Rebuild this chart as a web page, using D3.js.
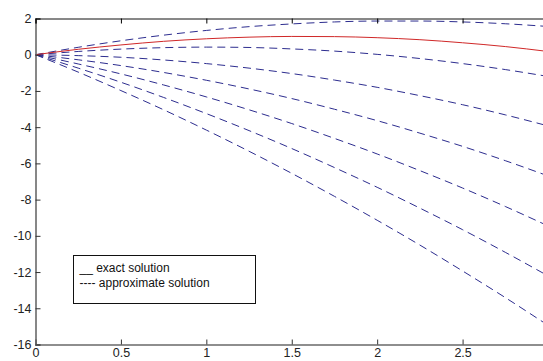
<!DOCTYPE html>
<html>
<head>
	<title>exact vs approximate</title>
	<script src="https://d3js.org/d3.v7.min.js"></script>
	<style type="text/css">
		body { margin:0; background:#fff; overflow:hidden; }
		text { font-family:"Liberation Sans", Arial, sans-serif; }
	</style>
</head>
<body>
	<script>
	// x samples
	var xs = [0, 0.25, 0.5, 0.75, 1, 1.25, 1.5, 1.75, 2, 2.25, 2.5, 2.75, 3];

	// red exact solution
	var exact = [0, 0.30, 0.54, 0.74, 0.88, 0.97, 1.01, 1.00, 0.94, 0.83, 0.66, 0.45, 0.18];

	// blue dashed approximate solutions, top to bottom
	var approx1 = [0, 0.41, 0.77, 1.08, 1.34, 1.55, 1.70, 1.81, 1.86, 1.86, 1.81, 1.71, 1.56];
	var approx2 = [0, 0.18, 0.31, 0.39, 0.42, 0.40, 0.32, 0.20, 0.02, -0.21, -0.49, -0.82, -1.20];
	var approx3 = [0, -0.05, -0.14, -0.29, -0.49, -0.74, -1.04, -1.40, -1.80, -2.26, -2.76, -3.32, -3.93];
	var approx4 = [0, -0.28, -0.60, -0.98, -1.41, -1.89, -2.42, -3.01, -3.64, -4.33, -5.06, -5.85, -6.69];
	var approx5 = [0, -0.51, -1.06, -1.67, -2.33, -3.04, -3.80, -4.62, -5.48, -6.40, -7.36, -8.38, -9.45];
	var approx6 = [0, -0.74, -1.52, -2.36, -3.25, -4.19, -5.18, -6.23, -7.32, -8.47, -9.66, -10.91, -12.21];
	var approx7 = [0, -0.96, -1.98, -3.04, -4.16, -5.33, -6.55, -7.82, -9.14, -10.51, -11.94, -13.41, -14.94];

	// the 3 tick sits on the hidden right edge, so it gets no label
	var xTicks = [0, 0.5, 1, 1.5, 2, 2.5];
	var yTicks = [2, 0, -2, -4, -6, -8, -10, -12, -14, -16];
	var legendLabels = ["__ exact solution", "---- approximate solution"];

	var approxAll = [approx1, approx2, approx3, approx4, approx5, approx6, approx7];

	var svg = d3.select("body").append("svg")
		.attr("width", 560)
		.attr("height", 361);

	// plot box runs past the right edge of the window, like the screenshot
	var boxL = 35.5, boxR = 548, boxT = 18.5, boxB = 344.5;

	var xScale = d3.scaleLinear().domain([0, 3]).range([boxL, boxR]);
	var yScale = d3.scaleLinear().domain([-16, 2]).range([boxB, boxT]);

	var line = d3.line()
		.x(function(d){ return xScale(d[0]); })
		.y(function(d){ return yScale(d[1]); })
		.curve(d3.curveMonotoneX);

	function pairs(ys){
		return xs.map(function(x, i){ return [x, ys[i]]; });
	}

	// dashed lines
	approxAll.forEach(function(ys){
		svg.append("path")
			.attr("d", line(pairs(ys)))
			.attr("fill", "none")
			.attr("stroke", "#2d2d8f")
			.attr("stroke-width", 1)
			.attr("stroke-dasharray", "8,5");
	});

	svg.append("path")
		.attr("d", line(pairs(exact)))
		.attr("fill", "none")
		.attr("stroke", "#d02828")
		.attr("stroke-width", 1);

	// axes, ticks inward
	var xAxis = d3.axisBottom(xScale).tickValues(xTicks).tickSize(-5).tickPadding(4)
		.tickFormat(d3.format("~g"));
	var yAxis = d3.axisLeft(yScale).tickValues(yTicks).tickSize(-5).tickPadding(4)
		.tickFormat(function(d){ return d < 0 ? "-" + Math.abs(d) : d; });

	var gx = svg.append("g")
		.attr("transform", "translate(0," + boxB + ")")
		.call(xAxis);
	var gy = svg.append("g")
		.attr("transform", "translate(" + boxL + ",0)")
		.call(yAxis);

	[gx, gy].forEach(function(g){
		g.select(".domain").attr("stroke", "#6a6a6a").attr("stroke-width", 1.6);
		g.selectAll(".tick line").attr("stroke", "#333");
		g.selectAll(".tick text")
			.attr("fill", "#222")
			.style("font-size", "12.5px")
			.style("font-family", "'Liberation Sans', Arial, sans-serif");
	});

	// top and right frame with their ticks
	svg.append("g")
		.attr("transform", "translate(0," + boxT + ")")
		.call(d3.axisTop(xScale).tickValues(xTicks).tickSize(-5).tickFormat(""))
		.call(function(g){ g.select(".domain").attr("stroke", "#111"); });
	svg.append("g")
		.attr("transform", "translate(" + boxR + ",0)")
		.call(d3.axisRight(yScale).tickValues(yTicks).tickSize(-5).tickFormat(""))
		.call(function(g){ g.select(".domain").attr("stroke", "#111"); });

	// legend
	var legend = svg.append("g").attr("transform", "translate(73.5,255.5)");
	legend.append("rect")
		.attr("width", 182)
		.attr("height", 48)
		.attr("fill", "#fff")
		.attr("stroke", "#111")
		.attr("stroke-width", 1);
	legend.selectAll("text.lab")
		.data(legendLabels)
		.enter().append("text")
		.attr("class", "lab")
		.attr("x", 6)
		.attr("y", function(d, i){ return 16 + i * 15; })
		.attr("fill", "#111")
		.style("font-size", "12px")
		.text(function(d){ return d; });
	</script>
</body>
</html>
